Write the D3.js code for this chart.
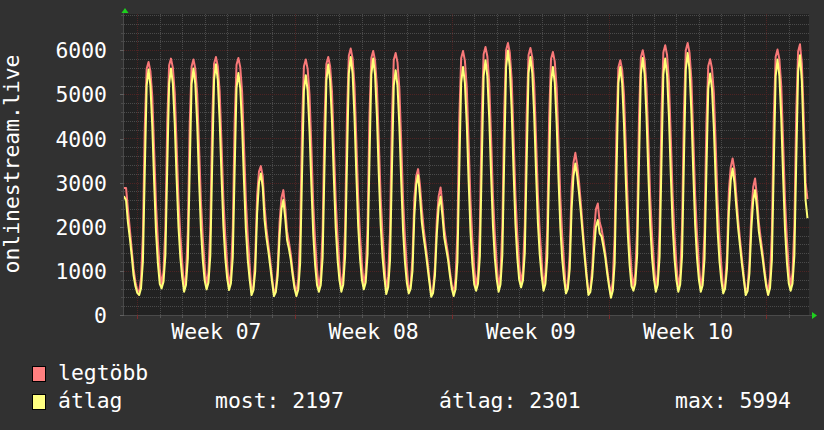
<!DOCTYPE html>
<html><head><meta charset="utf-8">
<script src="https://cdn.jsdelivr.net/npm/d3@7"></script>
<style>html,body{margin:0;padding:0;background:#313131;}svg{display:block}</style>
</head><body><svg id="c" width="824" height="430"></svg>
<script>
// ---- data (hours from Monday 00:00 of week 07, 2-hour bins) ----
const startHour = -15;
const stepHours = 2;
const endHour = 716;
const yTicks = [0, 1000, 2000, 3000, 4000, 5000, 6000];
const weekStartHours = [0, 168, 336, 504, 672];
const weekLabels = ["Week 07", "Week 08", "Week 09", "Week 10"];
const weekLabelHours = [84, 252, 420, 588];
const seriesNames = ["legtöbb", "átlag"];
const seriesColors = ["#f87878", "#ffff78"];
const legendColors = ["#ff7f7f", "#ffff80"];
const statLabels = ["most: 2197", "átlag: 2301", "max: 5994"];
const yTitle = "onlinestream.live";

const maxSeries = [
 2880,2880,2400,1950,1500,1050,750,560,
 523,836,1826,4276,5580,5736,5527,4954,3755,2504,1670,1044,
 674,982,1958,4373,5657,5811,5606,5040,3859,2626,1804,1188,
 598,909,1896,4336,5633,5789,5581,5010,3816,2571,1740,1117,
 651,963,1951,4394,5693,5849,5641,5069,3874,2626,1795,1171,
 636,947,1934,4373,5670,5826,5618,5048,3854,2608,1778,1155,
 520,650,1300,2700,3250,3374,3150,2450,1950,1600,1250,850,
 500,600,1100,2100,2650,2830,2450,1900,1650,1380,1000,680,
 500,817,1822,4308,5630,5789,5577,4996,3779,2510,1664,1029,
 598,913,1911,4379,5691,5849,5639,5061,3854,2593,1753,1123,
 598,924,1958,4515,5875,6038,5820,5222,3971,2665,1795,1142,
 651,971,1985,4491,5825,5985,5772,5185,3958,2678,1824,1184,
 545,869,1894,4429,5778,5940,5724,5131,3890,2595,1732,1085,
 560,680,1300,2650,3150,3306,2950,2400,1950,1600,1250,850,
 480,580,1100,2150,2700,2891,2500,1950,1650,1380,1000,680,
 500,829,1871,4449,5820,5985,5766,5162,3901,2584,1707,1049,
 621,948,1985,4548,5911,6075,5857,5257,4002,2694,1821,1166,
 598,932,1990,4607,5999,6166,5943,5331,4050,2714,1823,1155,
 696,1017,2035,4553,5892,6053,5839,5249,4017,2732,1875,1232,
 621,941,1956,4467,5802,5962,5748,5161,3932,2651,1796,1155,
 560,700,1400,2900,3450,3675,3400,3000,2500,1950,1420,930,
 520,600,1050,1900,2400,2528,2100,1950,1700,1400,1050,720,
 462,781,1790,4287,5615,5774,5562,4977,3755,2481,1631,993,
 621,944,1966,4494,5839,6000,5785,5193,3956,2665,1804,1159,
 598,929,1977,4569,5948,6113,5892,5286,4017,2694,1811,1150,
 598,932,1990,4607,5999,6166,5943,5331,4050,2714,1823,1155,
 598,910,1898,4341,5640,5796,5588,5016,3821,2573,1742,1118,
 560,700,1350,2800,3350,3547,3300,2700,2150,1700,1280,880,
 520,620,1200,2300,2900,3094,2700,2100,1750,1420,1050,720,
 523,853,1896,4477,5850,6015,5795,5191,3928,2610,1731,1072,
 621,952,2000,4592,5971,6136,5700,4500,3000,2626
];

const avgSeries = [
 2680,2600,2100,1750,1350,900,650,500,
 453,606,1219,3263,5204,5562,5204,4285,3008,1884,1168,708,
 604,753,1351,3344,5236,5585,5236,4340,3095,1999,1301,853,
 528,680,1287,3309,5231,5585,5231,4321,3057,1944,1236,781,
 581,734,1346,3387,5326,5683,5326,4408,3132,2010,1295,836,
 566,714,1304,3273,5143,5487,5143,4257,3027,1944,1255,812,
 453,560,1000,2300,3000,3208,2900,2150,1750,1450,1100,750,
 430,520,900,1800,2400,2604,2200,1700,1500,1250,900,600,
 430,580,1181,3182,5084,5434,5084,4183,2932,1831,1131,680,
 528,682,1300,3359,5315,5675,5315,4388,3102,1969,1249,785,
 528,688,1326,3455,5477,5849,5477,4519,3189,2018,1273,794,
 581,738,1366,3458,5445,5811,5445,4504,3196,2045,1313,843,
 475,627,1236,3265,5192,5547,5192,4279,3011,1895,1185,729,
 490,590,1000,2250,2950,3170,2700,2100,1750,1450,1100,750,
 415,500,900,1850,2450,2679,2250,1750,1500,1250,900,600,
 430,586,1209,3286,5259,5623,5259,4325,3027,1884,1157,690,
 551,708,1334,3424,5408,5774,5408,4468,3163,2013,1282,812,
 528,692,1348,3534,5611,5994,5611,4628,3261,2058,1293,801,
 626,783,1409,3499,5483,5849,5483,4543,3238,2088,1357,887,
 551,703,1312,3341,5268,5623,5268,4355,3087,1971,1261,805,
 490,600,1050,2400,3150,3434,3150,2750,2300,1800,1300,850,
 453,520,850,1500,2000,2151,1850,1780,1550,1300,950,650,
 392,549,1177,3269,5257,5623,5257,4315,3008,1857,1124,654,
 551,709,1342,3452,5457,5826,5457,4507,3189,2028,1290,815,
 528,686,1320,3434,5441,5811,5441,4490,3170,2007,1268,792,
 528,690,1340,3505,5561,5940,5561,4587,3234,2043,1286,799,
 528,676,1270,3247,5126,5472,5126,4236,3000,1912,1220,775,
 490,600,1050,2350,3050,3321,3000,2450,1950,1550,1150,800,
 453,540,950,1950,2600,2830,2450,1900,1600,1300,950,640,
 453,613,1253,3388,5415,5789,5415,4455,3121,1947,1200,720,
 551,711,1351,3486,5513,5887,5300,3900,2600,2197
];

// ---- layout ----
const plotL = 124, plotR = 809, plotT = 14, plotB = 315;
const FONT = "'DejaVu Sans Mono', 'Liberation Mono', monospace";
const FS = "21.4px";

const svg = d3.select("#c");
svg.append("rect").attr("width", 824).attr("height", 430).attr("fill", "#313131");
svg.append("rect").attr("x", plotL).attr("y", plotT).attr("width", plotR - plotL).attr("height", plotB - plotT).attr("fill", "#222222");

const x = d3.scaleLinear().domain([-14.21, 717.63]).range([plotL, plotR]);
const y = d3.scaleLinear().domain([0, 6800]).range([plotB, 14.95]);
const px = v => Math.round(v) + 0.5;

// grid
const grid = svg.append("g").attr("shape-rendering", "crispEdges");
const minorY = d3.range(200, 6801, 200).filter(v => v % 1000 !== 0);
const majorY = d3.range(1000, 6001, 1000);
const dayHours = d3.range(0, 718, 24).filter(h => x(h) <= plotR);
const minorX = dayHours.filter(h => h % 168 !== 0);

grid.selectAll(".mny").data(minorY).join("line")
  .attr("x1", plotL).attr("x2", plotR).attr("y1", d => px(y(d))).attr("y2", d => px(y(d)))
  .attr("stroke", "#4a4a4a").attr("stroke-dasharray", "1,1");
grid.selectAll(".mnx").data(minorX).join("line")
  .attr("x1", d => px(x(d))).attr("x2", d => px(x(d))).attr("y1", plotT).attr("y2", plotB)
  .attr("stroke", "#4a4a4a").attr("stroke-dasharray", "1,1");
grid.selectAll(".mjy").data(majorY).join("line")
  .attr("x1", plotL).attr("x2", plotR).attr("y1", d => px(y(d))).attr("y2", d => px(y(d)))
  .attr("stroke", "#4e2424").attr("stroke-dasharray", "1,1");
grid.selectAll(".mjx").data(weekStartHours).join("line")
  .attr("x1", d => px(x(d))).attr("x2", d => px(x(d))).attr("y1", plotT).attr("y2", plotB)
  .attr("stroke", "#4e2424").attr("stroke-dasharray", "1,1");

// series (values at bin centres, joined by straight segments)
const toPoints = vals => {
  const pts = [{ t: startHour, v: vals[0] }];
  vals.forEach((v, i) => pts.push({ t: startHour + i * stepHours + stepHours / 2, v }));
  pts.push({ t: endHour, v: vals[vals.length - 1] });
  return pts;
};
svg.append("clipPath").attr("id", "clip").append("rect")
  .attr("x", plotL).attr("y", 0).attr("width", plotR - plotL).attr("height", plotB + 2);
const line = d3.line().x(d => x(d.t)).y(d => y(d.v)).curve(d3.curveLinear);
const plotG = svg.append("g").attr("clip-path", "url(#clip)");
[maxSeries, avgSeries].forEach((s, i) => {
  plotG.append("path").attr("d", line(toPoints(s)))
    .attr("fill", "none").attr("stroke", seriesColors[i]).attr("stroke-width", 2)
    .attr("stroke-linejoin", "round");
});

// axes lines and ticks
const ax = svg.append("g").attr("shape-rendering", "crispEdges");
ax.append("line").attr("x1", plotL - 0.5).attr("x2", plotL - 0.5).attr("y1", 12).attr("y2", plotB + 1).attr("stroke", "#4a4a4a");
ax.append("line").attr("x1", plotL - 1).attr("x2", 812).attr("y1", plotB + 0.5).attr("y2", plotB + 0.5).attr("stroke", "#4a4a4a");
ax.selectAll(".dt").data(minorX).join("line")
  .attr("x1", d => px(x(d))).attr("x2", d => px(x(d))).attr("y1", plotB).attr("y2", plotB + 3).attr("stroke", "#555");
ax.selectAll(".wt").data(weekStartHours).join("line")
  .attr("x1", d => px(x(d))).attr("x2", d => px(x(d))).attr("y1", plotB).attr("y2", plotB + 4).attr("stroke", "#7a2c2c");
ax.selectAll(".mt").data(minorY).join("line")
  .attr("x1", plotL - 3).attr("x2", plotL).attr("y1", d => px(y(d))).attr("y2", d => px(y(d))).attr("stroke", "#4a4a4a");

// arrows
svg.append("path").attr("d", `M${plotL + 1},8 L${plotL - 2.5},13 L${plotL + 4.5},13 Z`).attr("fill", "#1ed01e");
svg.append("path").attr("d", `M817,${plotB + 0.5} L812,${plotB - 3} L812,${plotB + 4} Z`).attr("fill", "#1ed01e");

// y axis labels
const yAxis = d3.axisLeft(y).tickValues(yTicks).tickSize(4).tickPadding(13).tickFormat(d3.format("d"));
const gy = svg.append("g").attr("transform", `translate(${plotL},0)`).call(yAxis);
gy.select(".domain").remove();
gy.selectAll(".tick line").attr("stroke", "#606060").attr("shape-rendering", "crispEdges");
gy.selectAll(".tick text").attr("fill", "#ffffff").attr("font-family", FONT).attr("font-size", FS)
  .attr("dy", "0.35em");

// x axis labels
const xAxis = d3.axisBottom(x).tickValues(weekLabelHours).tickSize(0).tickFormat((d, i) => weekLabels[i]);
const gx = svg.append("g").attr("transform", `translate(0,${plotB})`).call(xAxis);
gx.select(".domain").remove();
gx.selectAll(".tick text").attr("fill", "#ffffff").attr("font-family", FONT).attr("font-size", FS)
  .attr("y", 24).attr("dy", null);

// y title
svg.append("text").attr("transform", "translate(18.5,164) rotate(-90)")
  .attr("text-anchor", "middle").attr("fill", "#ffffff").attr("font-family", FONT).attr("font-size", FS)
  .text(yTitle);

// legend
const legY = [380, 408];
seriesNames.forEach((n, i) => {
  svg.append("rect").attr("x", 32.5).attr("y", legY[i] - 13.5).attr("width", 13).attr("height", 15)
    .attr("fill", legendColors[i]).attr("stroke", "#000").attr("stroke-width", 1).attr("shape-rendering", "crispEdges");
  svg.append("text").attr("x", 58).attr("y", legY[i]).attr("fill", "#ffffff")
    .attr("font-family", FONT).attr("font-size", FS).text(n);
});
const statX = [215, 439, 675];
statLabels.forEach((s, i) => {
  svg.append("text").attr("x", statX[i]).attr("y", legY[1]).attr("fill", "#ffffff")
    .attr("font-family", FONT).attr("font-size", FS).attr("xml:space", "preserve").text(s);
});
</script>
</body></html>
